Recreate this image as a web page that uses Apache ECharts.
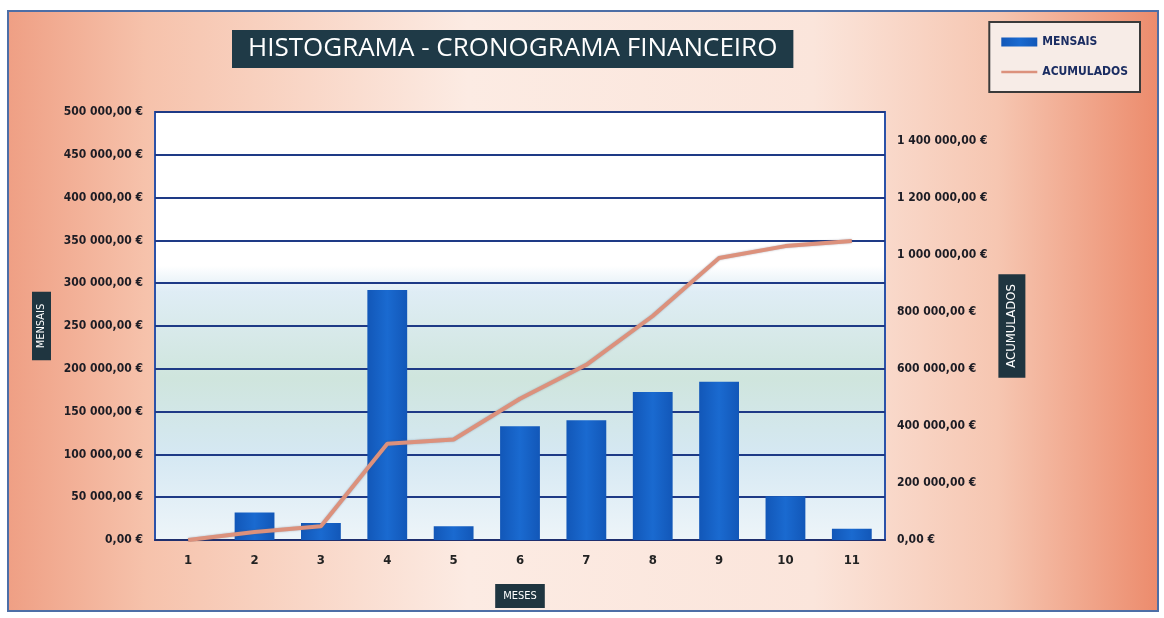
<!DOCTYPE html>
<html>
<head>
<meta charset="utf-8">
<title>Histograma - Cronograma Financeiro</title>
<script src="https://cdn.jsdelivr.net/npm/echarts@6/dist/echarts.min.js"></script>
<style>
  html, body { margin: 0; padding: 0; background: #fff; }
  #chart { width: 1164px; height: 618px; }
</style>
</head>
<body>
<div id="chart"></div>
<script>
// month numbers on the x axis
const meses = ['1', '2', '3', '4', '5', '6', '7', '8', '9', '10', '11'];
// monthly amounts (left axis, bars)
const mensais = [0, 32000, 20000, 292000, 16000, 133000, 140000, 173000, 185000, 51000, 13000];
// running total (right axis, line)
const acumulados = [0, 28000, 48000, 337000, 352000, 495000, 614000, 785000, 988000, 1030000, 1048000];

const labelFont = '"Liberation Sans Narrow", "DejaVu Sans Condensed", sans-serif';

// 500000 -> "500 000,00 €"
function euro(v) {
  const s = String(Math.round(v)).replace(/\B(?=(\d{3})+(?!\d))/g, ' ');
  return s + ',00 €';
}

const chart = echarts.init(document.getElementById('chart'));

const option = {
  backgroundColor: '#ffffff',
  animation: false,
  graphic: [
    {
      type: 'rect',
      z: -10,
      silent: true,
      shape: { x: 8, y: 11, width: 1150, height: 600 },
      style: {
        fill: new echarts.graphic.LinearGradient(0, 0, 1, 0, [
          { offset: 0, color: '#ef9f84' },
          { offset: 0.12, color: '#f6c2ab' },
          { offset: 0.4, color: '#fcebe3' },
          { offset: 0.7, color: '#fbe5db' },
          { offset: 0.86, color: '#f6c6b1' },
          { offset: 1, color: '#ec8b6c' }
        ]),
        stroke: '#4d6ea6',
        lineWidth: 2
      }
    }
  ],
  title: {
    text: 'HISTOGRAMA - CRONOGRAMA FINANCEIRO',
    left: 232,
    top: 30,
    padding: [6, 16, 6, 16],
    backgroundColor: '#1f3a47',
    textStyle: {
      color: '#ffffff',
      fontFamily: '"Open Sans", sans-serif',
      fontWeight: 'normal',
      fontSize: 26
    }
  },
  legend: {
    orient: 'vertical',
    right: 24,
    top: 22,
    padding: [14, 12, 14, 12],
    itemGap: 18,
    itemWidth: 36,
    itemHeight: 9,
    backgroundColor: '#f7ece7',
    borderColor: '#3a3a3a',
    borderWidth: 2,
    textStyle: {
      color: '#1b2d62',
      fontFamily: labelFont,
      fontWeight: 'bold',
      fontSize: 12
    },
    data: [
      { name: 'MENSAIS', icon: 'rect' },
      { name: 'ACUMULADOS', icon: 'path://M0,0 L40,0 L40,3 L0,3 Z' }
    ]
  },
  grid: {
    left: 155,
    right: 279,
    top: 112,
    bottom: 78,
    show: true,
    borderColor: '#2c52a8',
    borderWidth: 2,
    backgroundColor: new echarts.graphic.LinearGradient(0, 0, 0, 1, [
      { offset: 0, color: '#ffffff' },
      { offset: 0.36, color: '#ffffff' },
      { offset: 0.42, color: '#dfedf5' },
      { offset: 0.62, color: '#cfe5dd' },
      { offset: 0.8, color: '#d5e8f3' },
      { offset: 1, color: '#eef5f9' }
    ])
  },
  xAxis: {
    type: 'category',
    data: meses,
    name: 'MESES',
    nameLocation: 'middle',
    nameGap: 44,
    nameTextStyle: {
      color: '#ffffff',
      backgroundColor: '#1f3540',
      padding: [7, 8, 6, 8],
      fontFamily: labelFont,
      fontSize: 11
    },
    axisTick: { show: false },
    axisLine: { lineStyle: { color: '#1f2f6e', width: 2 } },
    axisLabel: {
      margin: 14,
      color: '#222222',
      fontFamily: labelFont,
      fontWeight: 'bold',
      fontSize: 13
    }
  },
  yAxis: [
    {
      type: 'value',
      min: 0,
      max: 500000,
      interval: 50000,
      name: 'MENSAIS',
      nameLocation: 'middle',
      nameRotate: 90,
      nameGap: 104,
      nameTextStyle: {
        color: '#ffffff',
        backgroundColor: '#1f3540',
        padding: [4, 12, 4, 12],
        fontFamily: labelFont,
        fontSize: 11
      },
      axisLine: { show: false },
      axisTick: { show: false },
      splitLine: { lineStyle: { color: '#1e3a86', width: 2 } },
      axisLabel: {
        margin: 12,
        color: '#1c1c24',
        fontFamily: labelFont,
        fontWeight: 'bold',
        fontSize: 12,
        formatter: euro
      }
    },
    {
      type: 'value',
      min: 0,
      max: 1500000,
      interval: 200000,
      name: 'ACUMULADOS',
      nameLocation: 'middle',
      nameRotate: 90,
      nameGap: 110,
      nameTextStyle: {
        color: '#ffffff',
        backgroundColor: '#1f3540',
        padding: [7, 10, 7, 10],
        fontFamily: labelFont,
        fontSize: 13
      },
      axisLine: { show: false },
      axisTick: { show: false },
      splitLine: { show: false },
      axisLabel: {
        margin: 12,
        showMaxLabel: false,
        color: '#1c1c24',
        fontFamily: labelFont,
        fontWeight: 'bold',
        fontSize: 12,
        formatter: function (v) { return v % 200000 === 0 ? euro(v) : ''; }
      }
    }
  ],
  series: [
    {
      name: 'MENSAIS',
      type: 'bar',
      yAxisIndex: 0,
      barWidth: '60%',
      data: mensais,
      itemStyle: {
        color: new echarts.graphic.LinearGradient(0, 0, 1, 0, [
          { offset: 0, color: '#1257b8' },
          { offset: 0.5, color: '#1a6ad0' },
          { offset: 1, color: '#1257b8' }
        ])
      }
    },
    {
      name: 'ACUMULADOS',
      type: 'line',
      yAxisIndex: 1,
      data: acumulados,
      showSymbol: false,
      symbol: 'none',
      itemStyle: { color: '#dc917c' },
      lineStyle: {
        color: '#dc917c',
        width: 4,
        shadowColor: 'rgba(90,90,110,0.45)',
        shadowBlur: 2
      },
      z: 3
    }
  ]
};

chart.setOption(option);
</script>
</body>
</html>
